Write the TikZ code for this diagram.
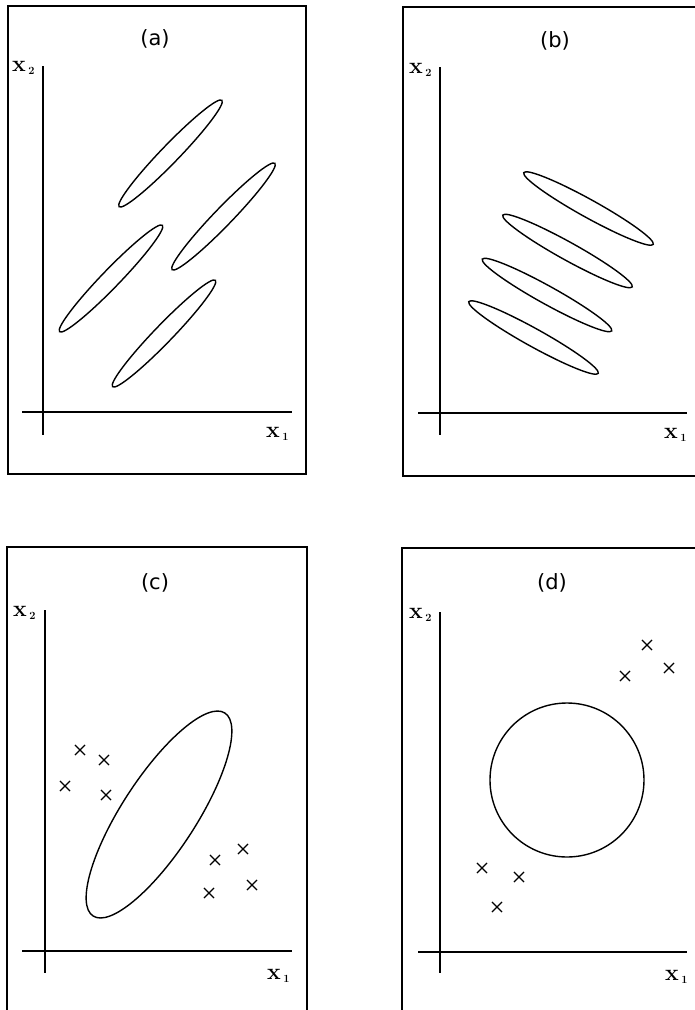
\documentclass[tikz,border=0pt]{standalone}
\usepackage{fontspec}
\newfontfamily\titlefont{DejaVu Sans}
\usetikzlibrary{shapes.misc}
\newcommand{\axlab}[1]{{\fontsize{23}{24}\selectfont\bfseries x}\hspace{2.5pt}\raisebox{-3pt}{\fontsize{11}{11}\selectfont\bfseries #1}}
\tikzset{
  frame/.style={line width=1.3pt},
  axis/.style={line width=1.3pt},
  blob/.style={line width=1.4pt},
  ttl/.style={inner sep=0pt, font=\titlefont\fontsize{21}{24}\selectfont},
  alab/.style={inner sep=0pt, anchor=base west},
  xmark/.style={draw, cross out, minimum size=9pt, inner sep=0pt, line width=1.1pt}
}
\begin{document}
\begin{tikzpicture}[x=1pt,y=-1pt]
\clip (0,0) rectangle (695,1010);
\fill[white] (0,0) rectangle (695,1010);
% ---------- (a)
\draw[frame] (8,6) rectangle (306,474);
\node[ttl] (ta) at (155,39) {(a)};
\draw[axis] (43,66) -- (43,435);
\draw[axis] (22,412) -- (292,412);
\node[alab] (ax2) at (12,71) {\axlab{2}};
\node[alab] (ax1) at (266,437) {\axlab{1}};
\foreach \c in {(170.5,153.5),(223.5,216.5),(111,278.5),(164,333.5)}
  \draw[blob, rotate around={46:\c}] \c ellipse [x radius=74, y radius=9];
% ---------- (b)
\draw[frame] (403,7) rectangle (720,476);
\node[ttl] (tb) at (555,41) {(b)};
\draw[axis] (440,67) -- (440,435);
\draw[axis] (418,413) -- (687,413);
\node[alab] (bx2) at (409,73) {\axlab{2}};
\node[alab] (bx1) at (664,438) {\axlab{1}};
\foreach \c in {(588.5,208.5),(567.5,251),(547,295),(533.5,337.5)}
  \draw[blob, rotate around={-29:\c}] \c ellipse [x radius=74, y radius=9];
% ---------- (c)
\draw[frame] (7,547) rectangle (307,1030);
\node[ttl] (tc) at (155,583) {(c)};
\draw[axis] (45,610) -- (45,973);
\draw[axis] (22,951) -- (292,951);
\node[alab] (cx2) at (13,616) {\axlab{2}};
\node[alab] (cx1) at (267,979) {\axlab{1}};
\draw[blob, rotate around={57:(159,814.5)}] (159,814.5) ellipse [x radius=121, y radius=37];
\foreach \p [count=\i] in {(80,750),(104,760),(65,786),(106,795),(243,849),(215,860),(252,885),(209,893)}
  \node[xmark] (cm\i) at \p {};
% ---------- (d)
\draw[frame] (402,548) rectangle (720,1030);
\node[ttl] (td) at (552,583) {(d)};
\draw[axis] (440,612) -- (440,973);
\draw[axis] (418,952) -- (687,952);
\node[alab] (dx2) at (409,618) {\axlab{2}};
\node[alab] (dx1) at (665,980) {\axlab{1}};
\draw[blob] (567,780) circle [radius=77];
\foreach \p [count=\i] in {(647,645),(625,676),(669,668),(482,868),(519,877),(497,907)}
  \node[xmark] (dm\i) at \p {};
\end{tikzpicture}
\end{document}
